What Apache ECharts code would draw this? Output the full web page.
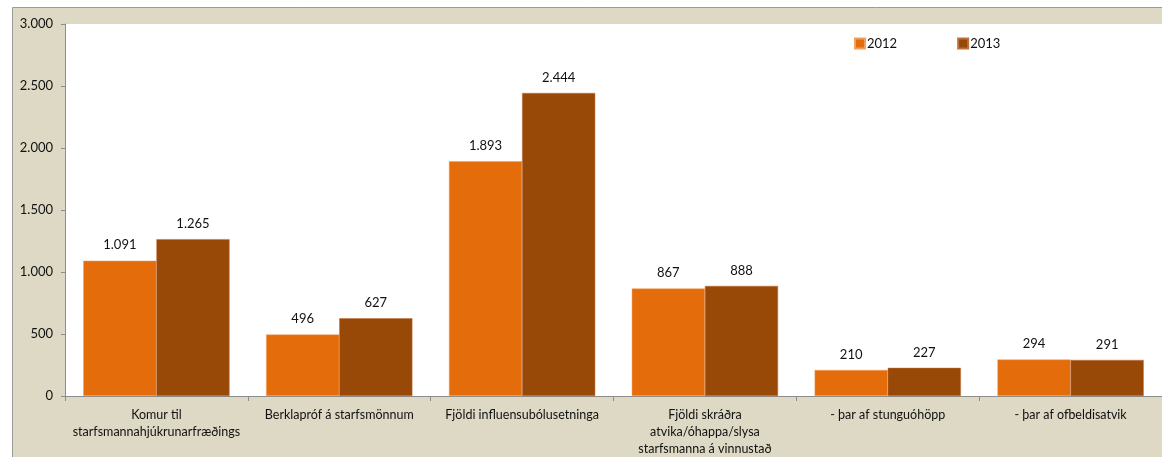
<!DOCTYPE html>
<html><head><meta charset="utf-8">
<script src="https://cdn.jsdelivr.net/npm/echarts@6/dist/echarts.min.js"></script>
<style>html,body{margin:0;padding:0;background:#fff}#c{width:1162px;height:457px}</style>
</head><body><div id="c"></div>
<script>
const categories = [
  "Komur til\nstarfsmannahjúkrunarfræðings",
  "Berklapróf á starfsmönnum",
  "Fjöldi influensubólusetninga",
  "Fjöldi skráðra\natvika/óhappa/slysa\nstarfsmanna á vinnustað",
  "- þar af stunguóhöpp",
  "- þar af ofbeldisatvik"
];
const values2012 = [1091, 496, 1893, 867, 210, 294];
const values2013 = [1265, 627, 2444, 888, 227, 291];
const seriesNames = ["2012", "2013"];
const yTicks = [0, 500, 1000, 1500, 2000, 2500, 3000];

const fmt = v => String(v).replace(/\B(?=(\d{3})+(?!\d))/g, ".");
const font = "Lato";
const chart = echarts.init(document.getElementById('c'), null, {renderer: 'canvas'});
const lbl = {show: true, position: 'top', distance: 9, color: '#111', fontFamily: font, fontSize: 13,
  formatter: p => fmt(p.value)};
chart.setOption({
  animation: false,
  backgroundColor: '#ffffff',
  graphic: [{
    type: 'rect', z: -10, silent: true,
    shape: {x: 12.5, y: 7.5, width: 1200, height: 500},
    style: {fill: '#DDD9C4', stroke: '#9a9a9a', lineWidth: 1}
  }],
  grid: {left: 65, top: 24, width: 1103, height: 372, show: true, backgroundColor: '#ffffff', borderWidth: 0},
  legend: {
    data: seriesNames, left: 854, top: 37, padding: 0, itemWidth: 10, itemHeight: 10, itemGap: 60,
    icon: 'rect', textStyle: {fontFamily: font, fontSize: 13, color: '#111', padding: [0,0,0,-3]}
  },
  xAxis: {
    type: 'category', data: categories,
    axisLine: {lineStyle: {color: '#8c8c8c'}},
    axisTick: {show: true, length: 5, lineStyle: {color: '#8c8c8c'}},
    axisLabel: {interval: 0, color: '#111', fontFamily: font, fontSize: 12.5, lineHeight: 17, margin: 10}
  },
  yAxis: {
    type: 'value', min: yTicks[0], max: yTicks[yTicks.length-1], interval: 500,
    splitLine: {show: false},
    axisLine: {show: true, lineStyle: {color: '#8c8c8c'}},
    axisTick: {show: true, length: 4, lineStyle: {color: '#8c8c8c'}},
    axisLabel: {color: '#111', fontFamily: font, fontSize: 13, margin: 12, formatter: v => fmt(v)}
  },
  series: [
    {name: seriesNames[0], type: 'bar', data: values2012, barGap: '0%', barCategoryGap: '20%',
     itemStyle: {color: '#E46C0A', borderColor: '#f0a060', borderWidth: 0.5}, label: lbl},
    {name: seriesNames[1], type: 'bar', data: values2013, barGap: '0%', barCategoryGap: '20%',
     itemStyle: {color: '#984807', borderColor: '#c07040', borderWidth: 0.5}, label: lbl}
  ]
});
</script></body></html>
